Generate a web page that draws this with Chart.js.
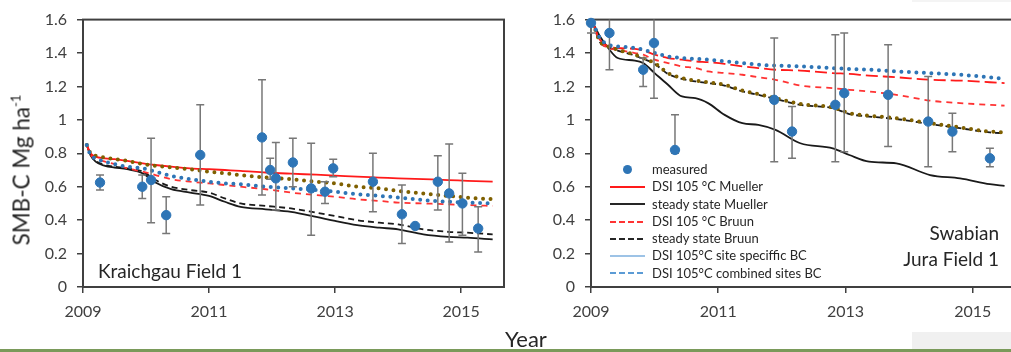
<!DOCTYPE html>
<html>
<head>
<meta charset="utf-8">
<script src="https://cdn.jsdelivr.net/npm/chart.js@4.4.1/dist/chart.umd.min.js"></script>
<style>
  html, body { margin: 0; padding: 0; background: #fff; overflow: hidden; }
  body { width: 1011px; height: 352px; position: relative; font-family: Lato, 'Open Sans', sans-serif; color: #262626; }
  .box { position: absolute; top: 0; height: 330px; }
  #boxK { left: 0; width: 512px; }
  #boxS { left: 510px; width: 514px; }
  .ytitle { position: absolute; left: 21px; top: 170px; transform: translate(-50%, -50%) rotate(-90deg); font-size: 22.5px; white-space: nowrap; }
  .ytitle sup { font-size: 13px; vertical-align: 9px; line-height: 0; }
  .xtitle { position: absolute; left: 505px; top: 325px; font-size: 22px; }
  .panel { position: absolute; font-size: 19px; line-height: 26px; white-space: nowrap; }
  #labK { left: 98px; top: 258px; }
  #labS { right: 12px; top: 220px; text-align: right; }
  #legend { position: absolute; left: 610px; top: 161px; font-size: 13px; }
  #legend .row { height: 17.3px; line-height: 17.3px; display: flex; align-items: center; white-space: nowrap; }
  #legend .sw { width: 35px; height: 2px; margin-right: 7px; flex: none; }
  #legend .dot { width: 9px; height: 9px; border-radius: 50%; background: #2E75B6; margin: 0 20px 0 13px; }
  .greybar { position: absolute; left: 912px; top: 332px; width: 99px; height: 18px; background: #f0f0f0; }
  .greentop { position: absolute; left: 912px; top: 0; width: 99px; height: 2px; background: #f4f4f4; }
  .green { position: absolute; left: 0; top: 349px; width: 1011px; height: 3px; background: #7A9A5A; }
</style>
</head>
<body>
<div class="greentop"></div>
<div class="box" id="boxK"><canvas id="chartK"></canvas></div>
<div class="box" id="boxS"><canvas id="chartS"></canvas></div>
<div class="ytitle">SMB-C Mg ha<sup>-1</sup></div>
<div class="xtitle">Year</div>
<div class="panel" id="labK">Kraichgau Field 1</div>
<div class="panel" id="labS">Swabian<br>Jura Field 1</div>
<div id="legend">
  <div class="row"><span class="dot"></span>measured</div>
  <div class="row"><span class="sw" style="background:#FF1A1A;height:1.5px"></span>DSI 105 °C Mueller</div>
  <div class="row"><span class="sw" style="background:#262626;height:1.5px"></span>steady state Mueller</div>
  <div class="row"><span class="sw" style="background:repeating-linear-gradient(90deg,#FF3333 0 6px,#fff 6px 9px)"></span>DSI 105 °C Bruun</div>
  <div class="row"><span class="sw" style="background:repeating-linear-gradient(90deg,#262626 0 6px,#fff 6px 9px)"></span>steady state Bruun</div>
  <div class="row"><span class="sw" style="background:#9DC3E6;height:2.5px"></span>DSI 105°C site speciffic BC</div>
  <div class="row"><span class="sw" style="background:repeating-linear-gradient(90deg,#5B9BD5 0 6px,#fff 6px 9px)"></span>DSI 105°C combined sites BC</div>
</div>
<div class="greybar"></div>
<div class="green"></div>

<script>
// ===== 軸 =====
const X_MIN = 2009;
const X_MAX = 2015.68;
const X_TICKS = [2009, 2011, 2013, 2015];
const Y_MIN = 0;
const Y_MAX = 1.6;
const Y_STEP = 0.2;

// ===== Kraichgau Field 1 : 実測 =====
const K_YEARS = [2009.27, 2009.94, 2010.08, 2010.32, 2010.86, 2011.84, 2011.97, 2012.06, 2012.33, 2012.62, 2012.84, 2012.97, 2013.60, 2014.06, 2014.27, 2014.63, 2014.81, 2015.02, 2015.27];
const K_SMB   = [0.625, 0.60, 0.64, 0.43, 0.79, 0.895, 0.70, 0.65, 0.745, 0.59, 0.57, 0.71, 0.63, 0.435, 0.365, 0.63, 0.56, 0.50, 0.35];
const K_LO    = [0.58, 0.53, 0.385, 0.32, 0.49, 0.55, 0.645, 0.46, 0.60, 0.31, 0.50, 0.66, 0.45, 0.26, 0.365, 0.46, 0.27, 0.31, 0.21];
const K_HI    = [0.67, 0.67, 0.89, 0.54, 1.09, 1.24, 0.77, 0.865, 0.89, 0.86, 0.63, 0.765, 0.80, 0.61, 0.365, 0.785, 0.855, 0.68, 0.48];

// ===== Kraichgau Field 1 : モデル =====
const K_T          = [2009.06, 2009.12, 2009.2, 2009.35, 2009.5, 2009.7, 2009.95, 2010.15, 2010.4, 2010.7, 2011.0, 2011.25, 2011.5, 2011.9, 2012.3, 2012.7, 2013.0, 2013.35, 2013.7, 2014.0, 2014.4, 2014.8, 2015.1, 2015.5];
const K_DSI_MUEL   = [0.85, 0.80, 0.78, 0.77, 0.765, 0.755, 0.74, 0.73, 0.72, 0.71, 0.705, 0.70, 0.695, 0.685, 0.678, 0.672, 0.667, 0.66, 0.655, 0.65, 0.645, 0.64, 0.635, 0.63];
const K_SS_MUEL    = [0.85, 0.79, 0.75, 0.725, 0.715, 0.705, 0.68, 0.625, 0.585, 0.565, 0.545, 0.51, 0.48, 0.465, 0.45, 0.42, 0.395, 0.37, 0.355, 0.345, 0.315, 0.30, 0.295, 0.285];
const K_DSI_BRUUN  = [0.85, 0.79, 0.77, 0.75, 0.735, 0.71, 0.69, 0.67, 0.645, 0.63, 0.62, 0.61, 0.60, 0.585, 0.565, 0.55, 0.54, 0.525, 0.515, 0.505, 0.50, 0.495, 0.49, 0.485];
const K_SS_BRUUN   = [0.85, 0.79, 0.755, 0.73, 0.72, 0.71, 0.69, 0.64, 0.60, 0.58, 0.565, 0.53, 0.50, 0.485, 0.47, 0.445, 0.425, 0.40, 0.385, 0.375, 0.345, 0.33, 0.325, 0.315];
const K_SITE_BC    = [0.85, 0.79, 0.77, 0.75, 0.735, 0.72, 0.71, 0.69, 0.665, 0.645, 0.63, 0.62, 0.615, 0.60, 0.59, 0.58, 0.57, 0.555, 0.545, 0.535, 0.52, 0.51, 0.505, 0.50];
const K_COMB_BC    = [0.85, 0.80, 0.785, 0.775, 0.765, 0.755, 0.735, 0.725, 0.715, 0.705, 0.69, 0.68, 0.67, 0.655, 0.645, 0.63, 0.62, 0.60, 0.59, 0.575, 0.56, 0.545, 0.535, 0.525];

// ===== Swabian Jura Field 1 : 実測 =====
const S_YEARS = [2009.0, 2009.29, 2009.82, 2009.99, 2010.32, 2011.88, 2012.16, 2012.84, 2012.98, 2013.67, 2014.30, 2014.68, 2015.27];
const S_SMB   = [1.58, 1.52, 1.30, 1.46, 0.82, 1.12, 0.93, 1.09, 1.16, 1.15, 0.99, 0.93, 0.77];
const S_LO    = [1.52, 1.30, 1.20, 1.13, 0.80, 0.75, 0.77, 0.75, 0.81, 0.84, 0.72, 0.81, 0.72];
const S_HI    = [1.64, 1.72, 1.37, 1.75, 1.03, 1.49, 1.08, 1.51, 1.52, 1.45, 1.26, 1.04, 0.83];

// ===== Swabian Jura Field 1 : モデル =====
const S_T          = [2009.03, 2009.14, 2009.27, 2009.42, 2009.69, 2009.82, 2010.0, 2010.21, 2010.43, 2010.64, 2010.84, 2011.1, 2011.38, 2011.63, 2011.9, 2012.29, 2012.8, 2013.06, 2013.37, 2013.8, 2014.33, 2014.8, 2015.27, 2015.5];
const S_DSI_MUEL   = [1.58, 1.48, 1.44, 1.43, 1.425, 1.415, 1.39, 1.37, 1.36, 1.35, 1.345, 1.335, 1.32, 1.31, 1.30, 1.295, 1.28, 1.275, 1.265, 1.255, 1.24, 1.235, 1.225, 1.22];
const S_SS_MUEL    = [1.58, 1.50, 1.43, 1.37, 1.355, 1.34, 1.28, 1.21, 1.14, 1.13, 1.10, 1.03, 0.98, 0.97, 0.94, 0.86, 0.83, 0.79, 0.75, 0.74, 0.67, 0.65, 0.615, 0.605];
const S_DSI_BRUUN  = [1.58, 1.47, 1.43, 1.42, 1.40, 1.39, 1.36, 1.34, 1.32, 1.31, 1.29, 1.28, 1.27, 1.255, 1.24, 1.205, 1.19, 1.18, 1.17, 1.15, 1.115, 1.10, 1.09, 1.085];
const S_SS_BRUUN   = [1.58, 1.465, 1.435, 1.415, 1.385, 1.365, 1.335, 1.275, 1.245, 1.23, 1.22, 1.205, 1.17, 1.15, 1.125, 1.09, 1.07, 1.035, 1.02, 1.005, 0.975, 0.95, 0.925, 0.92];
const S_SITE_BC    = [1.58, 1.49, 1.45, 1.44, 1.43, 1.42, 1.40, 1.38, 1.37, 1.365, 1.36, 1.35, 1.34, 1.33, 1.325, 1.32, 1.31, 1.305, 1.30, 1.29, 1.28, 1.27, 1.255, 1.245];
const S_COMB_BC    = [1.58, 1.47, 1.44, 1.42, 1.39, 1.37, 1.34, 1.28, 1.25, 1.235, 1.225, 1.21, 1.175, 1.155, 1.13, 1.095, 1.075, 1.04, 1.025, 1.01, 0.98, 0.955, 0.93, 0.925];

const FRAME = '#404040';
const FONT = "Lato, 'Open Sans', sans-serif";

function pts(xs, ys) {
  return xs.map((x, i) => ({ x, y: ys[i] }));
}

// ===== 誤差棒 (実測データセットの直前に描く) =====
const errorBars = {
  id: 'errorBars',
  beforeDatasetDraw(chart, args, opts) {
    if (args.index !== 0) return;
    const { ctx, chartArea: a, scales: { x, y } } = chart;
    ctx.save();
    ctx.beginPath();
    ctx.rect(a.left - 6, a.top, a.right - a.left + 12, a.bottom - a.top);
    ctx.clip();
    ctx.strokeStyle = '#777777';
    ctx.lineWidth = 1.5;
    opts.xs.forEach((v, i) => {
      const px = x.getPixelForValue(v);
      const lo = y.getPixelForValue(opts.lo[i]);
      const hi = y.getPixelForValue(opts.hi[i]);
      ctx.beginPath();
      ctx.moveTo(px, lo); ctx.lineTo(px, hi);
      ctx.moveTo(px - 4, lo); ctx.lineTo(px + 4, lo);
      ctx.moveTo(px - 4, hi); ctx.lineTo(px + 4, hi);
      ctx.stroke();
    });
    ctx.restore();
  }
};

// ===== 枠 =====
const frame = {
  id: 'frame',
  beforeDatasetsDraw(chart) {
    const { ctx, chartArea: a } = chart;
    ctx.save();
    ctx.strokeStyle = FRAME;
    ctx.lineWidth = 2;
    ctx.strokeRect(a.left, a.top, a.right - a.left, a.bottom - a.top);
    ctx.restore();
  }
};

function line(data, color, dash, width, cap) {
  return {
    type: 'line', data, borderColor: color, borderWidth: width,
    borderDash: dash, borderCapStyle: cap || 'butt',
    pointRadius: 0, cubicInterpolationMode: 'monotone', fill: false
  };
}

function makeChart(id, yAxisW, m, t, series) {
  const lines = [
    line(pts(t, series.siteBC), '#2E75B6', [0, 7.5], 4, 'round'),
    line(pts(t, series.combBC), '#7F6000', [0, 7.5], 4, 'round'),
    line(pts(t, series.dsiMuel), '#FF1A1A', series.muelDash || [], 1.8),
    line(pts(t, series.dsiBruun), '#FF3333', [6, 5], 1.8),
    line(pts(t, series.ssBruun), '#1a1a1a', [6, 4], 1.8),
    line(pts(t, series.ssMuel), '#1a1a1a', [], 1.8)
  ];
  const datasets = [{
    type: 'scatter', data: pts(m.xs, m.ys),
    backgroundColor: '#2E75B6', borderColor: '#2E75B6',
    pointRadius: 4.7, pointHoverRadius: 4.7, clip: 8
  }].concat(lines);

  return new Chart(document.getElementById(id), {
    data: { datasets },
    plugins: [errorBars, frame],
    options: {
      responsive: true, maintainAspectRatio: false, animation: false,
      layout: { padding: { top: 19, right: 8, left: 0, bottom: 0 } },
      plugins: {
        legend: { display: false }, tooltip: { enabled: false },
        errorBars: { xs: m.xs, lo: m.lo, hi: m.hi }
      },
      scales: {
        x: {
          type: 'linear', min: X_MIN, max: X_MAX,
          afterBuildTicks: s => { s.ticks = X_TICKS.map(v => ({ value: v })); },
          afterFit: s => { s.height = 43; },
          grid: { drawOnChartArea: false, tickLength: 6, color: FRAME, lineWidth: 1.5 },
          border: { display: false },
          ticks: { color: '#404040', font: { family: FONT, size: 16 }, padding: 9, callback: v => String(v), maxRotation: 0 }
        },
        y: {
          min: Y_MIN, max: Y_MAX,
          afterFit: s => { s.width = yAxisW; },
          grid: { drawOnChartArea: false, tickLength: 6, color: FRAME, lineWidth: 1.5 },
          border: { display: false },
          ticks: { stepSize: Y_STEP, color: '#404040', font: { family: FONT, size: 16 }, padding: 10,
                   callback: v => String(+v.toFixed(1)) }
        }
      }
    }
  });
}

document.addEventListener('DOMContentLoaded', () => {
  makeChart('chartK', 83,
    { xs: K_YEARS, ys: K_SMB, lo: K_LO, hi: K_HI }, K_T,
    { dsiMuel: K_DSI_MUEL, ssMuel: K_SS_MUEL, dsiBruun: K_DSI_BRUUN, ssBruun: K_SS_BRUUN, siteBC: K_SITE_BC, combBC: K_COMB_BC });
  makeChart('chartS', 81,
    { xs: S_YEARS, ys: S_SMB, lo: S_LO, hi: S_HI }, S_T,
    { dsiMuel: S_DSI_MUEL, ssMuel: S_SS_MUEL, dsiBruun: S_DSI_BRUUN, ssBruun: S_SS_BRUUN, siteBC: S_SITE_BC, combBC: S_COMB_BC, muelDash: [12, 5] });
});
</script>
</body>
</html>
